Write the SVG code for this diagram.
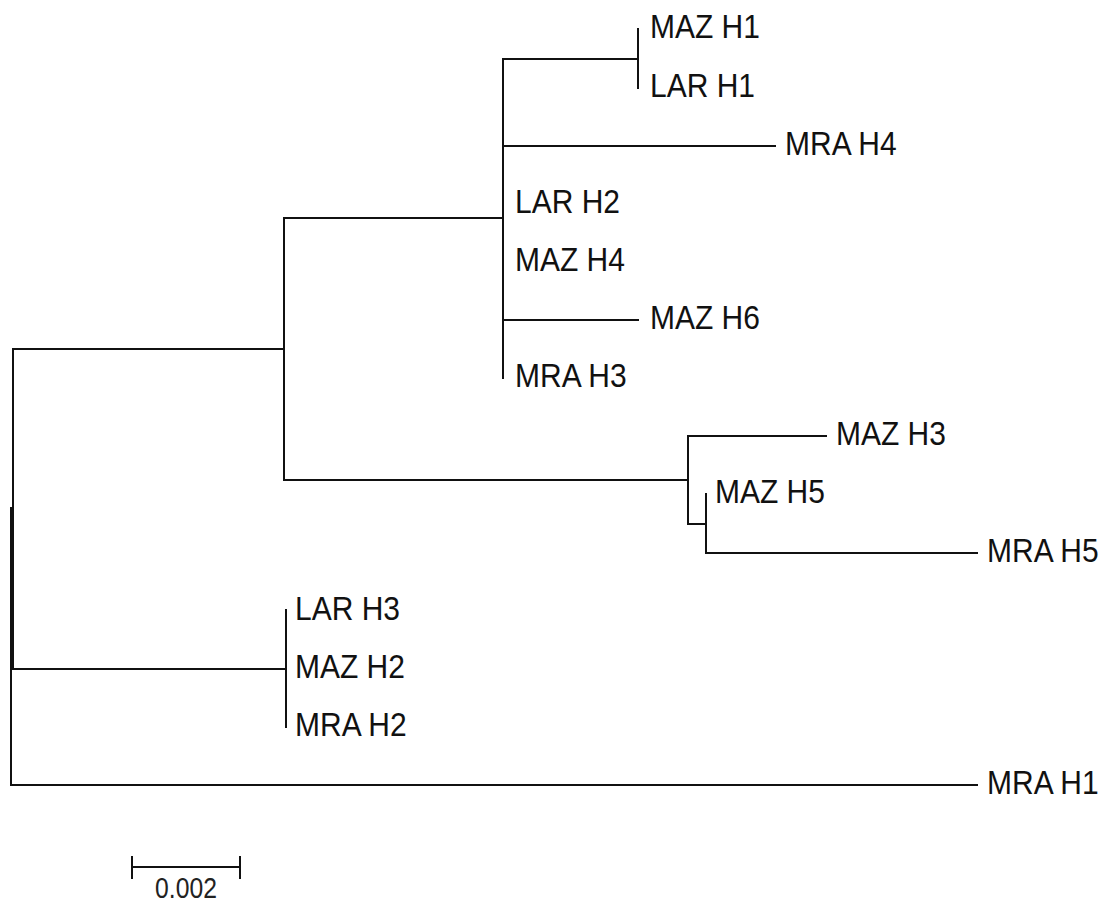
<svg xmlns="http://www.w3.org/2000/svg" width="1105" height="904" viewBox="0 0 1105 904">
<style>
.br{stroke:#111;stroke-width:2;fill:none;stroke-linecap:square}
.lb{font-family:"Liberation Sans",Arial,sans-serif;font-size:30px;fill:#111}
.sc{font-family:"Liberation Sans",Arial,sans-serif;font-size:26px;fill:#222}
</style>
<rect width="1105" height="904" fill="#fff"/>
<g id="connectors">
<path class="br" d="M11,508 V785 H977 M11,508 H13"/>
<path class="br" d="M13,349 V669 M13,349 H284 M13,669 H286"/>
<path class="br" d="M284,218 V480 M284,218 H503 M284,480 H688"/>
<path class="br" d="M503,59 V378 M503,59 H638 M503,146 H775 M503,320 H638"/>
<path class="br" d="M638,29 V88"/>
<path class="br" d="M688,436 V524 M688,436 H826 M688,524 H706"/>
<path class="br" d="M706,494 V553 H977"/>
<path class="br" d="M286,610 V727"/>
</g>
<g id="leaf-MAZH1"><text class="lb" transform="translate(650,38) scale(1,1.1)">MAZ H1</text></g>
<g id="leaf-LARH1"><text class="lb" transform="translate(650,97) scale(1,1.1)">LAR H1</text></g>
<g id="leaf-MRAH4"><text class="lb" transform="translate(785,155) scale(1,1.1)">MRA H4</text></g>
<g id="leaf-LARH2"><text class="lb" transform="translate(515,213) scale(1,1.1)">LAR H2</text></g>
<g id="leaf-MAZH4"><text class="lb" transform="translate(515,271) scale(1,1.1)">MAZ H4</text></g>
<g id="leaf-MAZH6"><text class="lb" transform="translate(650,329) scale(1,1.1)">MAZ H6</text></g>
<g id="leaf-MRAH3"><text class="lb" transform="translate(515,387) scale(1,1.1)">MRA H3</text></g>
<g id="leaf-MAZH3"><text class="lb" transform="translate(836,445) scale(1,1.1)">MAZ H3</text></g>
<g id="leaf-MAZH5"><text class="lb" transform="translate(715,503) scale(1,1.1)">MAZ H5</text></g>
<g id="leaf-MRAH5"><text class="lb" transform="translate(987,562) scale(1,1.1)">MRA H5</text></g>
<g id="leaf-LARH3"><text class="lb" transform="translate(295,620) scale(1,1.1)">LAR H3</text></g>
<g id="leaf-MAZH2"><text class="lb" transform="translate(295,678) scale(1,1.1)">MAZ H2</text></g>
<g id="leaf-MRAH2"><text class="lb" transform="translate(295,736) scale(1,1.1)">MRA H2</text></g>
<g id="leaf-MRAH1"><text class="lb" transform="translate(987,794) scale(1,1.1)">MRA H1</text></g>
<g id="scale-bar">
<path class="br" d="M132,867 H240 M132,857 V878 M240,857 V878"/>
<text class="sc" text-anchor="middle" transform="translate(186,898) scale(0.95,1.1)">0.002</text>
</g>
</svg>
